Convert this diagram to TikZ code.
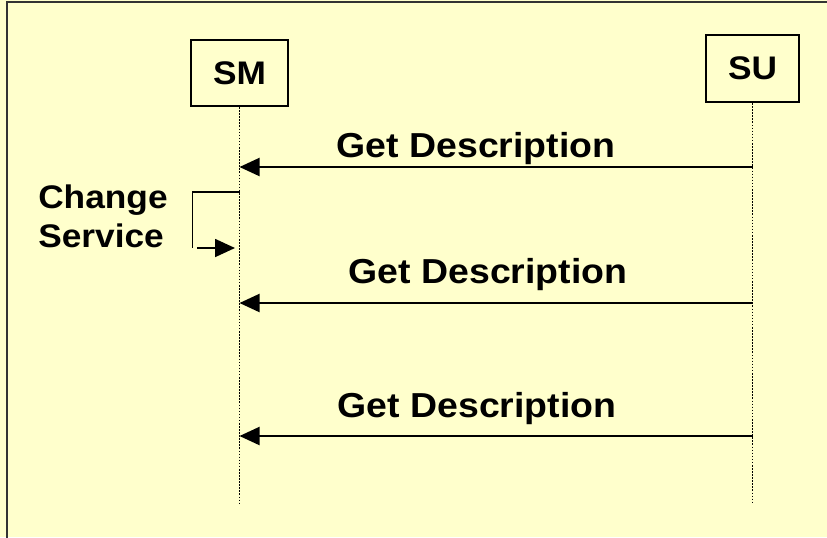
\documentclass[tikz,border=0pt]{standalone}
\usepackage{fontspec}
\setmainfont[FakeStretch=1.08]{Liberation Sans}
\usetikzlibrary{arrows.meta}
\definecolor{paleyellow}{HTML}{FFFFCC}
\definecolor{framegray}{HTML}{333333}

\begin{document}
\begin{tikzpicture}[x=0.75pt,y=-0.75pt,
    box/.style={draw,line width=1.6pt,fill=paleyellow,inner sep=0pt,
                font=\fontsize{24.5}{29}\selectfont\bfseries},
    lifeline/.style={line width=1pt,dash pattern=on 1.2pt off 1.1pt},
    msg/.style={-{Triangle[length=15pt,width=13.5pt]},line width=1.5pt},
    msglabel/.style={anchor=base,inner sep=0pt,font=\fontsize{26}{31}\selectfont\bfseries},
    note/.style={anchor=base west,align=left,inner sep=0pt,
                 font=\fontsize{24.5}{28.8}\selectfont\bfseries},
    turn/.style={line width=1.3pt}
]
\clip (0,0) rectangle (827,537);
\fill[paleyellow] (0,0) rectangle (827,537);
\draw[framegray,line width=1.5pt] (7,2) rectangle (850,560);

\node[box,minimum width=72.75pt,minimum height=49.5pt] (sm) at (239.5,73) {SM};
\node[box,minimum width=69.75pt,minimum height=50.25pt] (su) at (752.5,68.5) {SU};

% lifelines
\coordinate (smend) at (sm.south |- 0,504);
\coordinate (suend) at (su.south |- 0,503);
\draw[lifeline] (sm) -- (smend);
\draw[lifeline] (su) -- (suend);

% requests from SU to SM
\foreach \y/\lx/\ly [count=\i] in {167/476/157,303/488/283,436/477/417}{
  \coordinate (from\i) at (su.south |- 0,\y);
  \coordinate (to\i) at (sm.south |- 0,\y);
  \draw[msg] (from\i) -- (to\i);
  \node[msglabel] (get\i) at (\lx,\ly) {Get Description};
}

% self call on SM
\node[note] (chg) at (38,247) {Change\\Service};
\coordinate (csout) at (sm.south |- 0,192);
\coordinate (cscorner) at (192.5,248);
\coordinate (csstart) at (197,248);
\coordinate (csin) at (235,248);
\draw[turn] (csout) -| (cscorner);
\draw[msg,line width=1.3pt] (csstart) -- (csin);
\end{tikzpicture}
\end{document}
